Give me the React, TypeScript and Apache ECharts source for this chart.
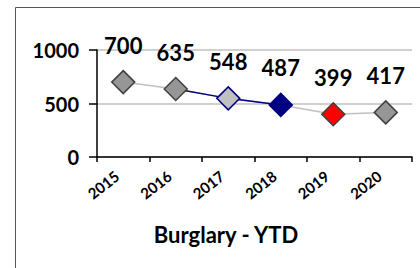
import React, { useEffect, useRef } from "react";
import * as echarts from "echarts";

const years = ["2015", "2016", "2017", "2018", "2019", "2020"];
const values = [700, 635, 548, 487, 399, 417];
const highlight = [null, 635, 548, 487, null, null];
const markerFill = ["#969696", "#969696", "#c0c0c0", "#000080", "#ff0000", "#969696"];
const markerBorder = ["#404040", "#404040", "#000080", "#000080", "#404040", "#404040"];
const yTicks = [0, 500, 1000];
const title = "Burglary - YTD";

const FONT = "Lato";

export default function App() {
  const ref = useRef<HTMLDivElement>(null);
  useEffect(() => {
    const chart = echarts.init(ref.current!, null, { renderer: "svg" });
    chart.setOption({
      animation: false,
      backgroundColor: "#ffffff",
      title: {
        text: title,
        left: 221,
        top: 218,
        textAlign: "center",
        textStyle: { fontFamily: FONT, fontWeight: "bold", fontSize: 22, color: "#000" },
      },
      grid: { left: 97, right: 8, top: 50, bottom: 111 },
      xAxis: {
        type: "category",
        data: years,
        boundaryGap: true,
        axisLine: { lineStyle: { color: "#000", width: 1.5 } },
        axisTick: { show: true, alignWithLabel: false, length: 5, lineStyle: { color: "#000", width: 1.5 } },
        axisLabel: {
          rotate: 38,
          margin: 12,
          padding: [0, 8, 0, 0],
          fontFamily: FONT,
          fontWeight: "bold",
          fontSize: 15,
          color: "#000",
        },
      },
      yAxis: {
        type: "value",
        min: yTicks[0],
        max: yTicks[yTicks.length - 1],
        interval: 500,
        axisLine: { show: true, lineStyle: { color: "#000", width: 1.5 } },
        axisTick: { show: true, length: 8, lineStyle: { color: "#000", width: 1.5 } },
        axisLabel: {
          margin: 18,
          fontFamily: FONT,
          fontWeight: "bold",
          fontSize: 20,
          color: "#000",
          formatter: (v: number) => String(v),
        },
        splitLine: { show: true, lineStyle: { color: "#c0c0c0", width: 1.5 } },
      },
      series: [
        {
          type: "line",
          data: values,
          showSymbol: false,
          symbol: "none",
          lineStyle: { color: "#c0c0c0", width: 1.5 },
          z: 1,
        },
        {
          type: "line",
          data: highlight,
          showSymbol: false,
          symbol: "none",
          lineStyle: { color: "#000080", width: 1.5 },
          z: 2,
        },
        {
          type: "scatter",
          symbol: "diamond",
          symbolSize: 23,
          z: 3,
          itemStyle: { opacity: 1 },
          data: values.map((v, i) => ({
            value: v,
            itemStyle: { color: markerFill[i], borderColor: markerBorder[i], borderWidth: 1.5, opacity: 1 },
          })),
          label: {
            show: true,
            position: "inside",
            offset: [0, -37],
            fontFamily: FONT,
            fontWeight: "bold",
            fontSize: 22,
            color: "#000",
            opacity: 1,
            textBorderWidth: 0,
          },
        },
      ],
      graphic: [
        { type: "line", shape: { x1: 15.5, y1: 7.5, x2: 420, y2: 7.5 }, style: { stroke: "#555", lineWidth: 1 } },
        { type: "line", shape: { x1: 15.5, y1: 7.5, x2: 15.5, y2: 268 }, style: { stroke: "#555", lineWidth: 1 } },
      ],
    });
    return () => chart.dispose();
  }, []);
  return <div ref={ref} style={{ position: "absolute", left: 0, top: 0, width: 420, height: 268 }} />;
}
